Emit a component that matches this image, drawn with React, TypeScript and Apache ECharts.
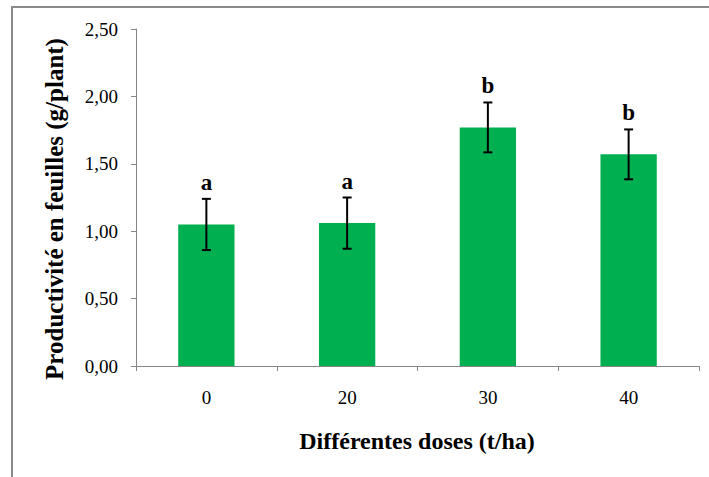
import React, { useEffect, useRef } from "react";
import * as echarts from "echarts";

const categories = ["0", "20", "30", "40"];
const means = [1.05, 1.06, 1.77, 1.57];
const errors = [0.19, 0.19, 0.185, 0.185];
const letters = ["a", "a", "b", "b"];
const yTicks = { min: 0, max: 2.5, interval: 0.5 };

const FONT = "Liberation Serif";

export default function App() {
  const ref = useRef<HTMLDivElement>(null);
  useEffect(() => {
    const chart = echarts.init(ref.current!, null, { renderer: "svg" });
    chart.setOption({
      animation: false,
      backgroundColor: "#ffffff",
      textStyle: { fontFamily: FONT },
      grid: { left: 136, right: 10, top: 29, bottom: 111, containLabel: false },
      xAxis: {
        type: "category",
        data: categories,
        axisLine: { lineStyle: { color: "#868686", width: 1 } },
        axisTick: { show: true, length: 5, lineStyle: { color: "#868686" } },
        axisLabel: { color: "#000", fontFamily: FONT, fontSize: 19, margin: 22 },
      },
      yAxis: {
        type: "value",
        min: yTicks.min,
        max: yTicks.max,
        interval: yTicks.interval,
        axisLine: { show: true, lineStyle: { color: "#868686", width: 1 } },
        axisTick: { show: true, length: 5, lineStyle: { color: "#868686" } },
        splitLine: { show: false },
        axisLabel: {
          color: "#000",
          fontFamily: FONT,
          fontSize: 19,
          margin: 18,
          formatter: (v: number) => v.toFixed(2).replace(".", ","),
        },
      },
      graphic: [
        {
          type: "rect",
          shape: { x: 12, y: 7, width: 900, height: 700 },
          style: { fill: "none", stroke: "#898989", lineWidth: 2 },
          silent: true,
        },
        {
          type: "text",
          x: 54,
          y: 209,
          rotation: Math.PI / 2,
          style: {
            text: "Productivité en feuilles (g/plant)",
            fontFamily: FONT,
            fontSize: 25,
            fontWeight: "bold",
            fill: "#000",
            align: "center",
            verticalAlign: "middle",
          },
        },
        {
          type: "text",
          x: 417,
          y: 441,
          style: {
            text: "Différentes doses (t/ha)",
            fontFamily: FONT,
            fontSize: 24,
            fontWeight: "bold",
            fill: "#000",
            align: "center",
            verticalAlign: "middle",
          },
        },
      ],
      series: [
        {
          type: "bar",
          data: means,
          barWidth: "40%",
          itemStyle: { color: "#00B050" },
        },
        {
          type: "custom",
          data: means.map((m, i) => [i, m, errors[i]]),
          encode: { x: 0, y: 1 },
          z: 10,
          renderItem: (params: any, api: any) => {
            const i = api.value(0);
            const m = api.value(1);
            const e = api.value(2);
            const top = api.coord([i, m + e]);
            const bot = api.coord([i, m - e]);
            const cap = 4.5;
            const ls = { stroke: "#000", lineWidth: 2 };
            return {
              type: "group",
              children: [
                { type: "line", shape: { x1: top[0], y1: top[1], x2: bot[0], y2: bot[1] }, style: ls },
                { type: "line", shape: { x1: top[0] - cap, y1: top[1], x2: top[0] + cap, y2: top[1] }, style: ls },
                { type: "line", shape: { x1: bot[0] - cap, y1: bot[1], x2: bot[0] + cap, y2: bot[1] }, style: ls },
                {
                  type: "text",
                  x: top[0],
                  y: top[1] - 5,
                  style: {
                    text: letters[params.dataIndex],
                    fontFamily: FONT,
                    fontSize: 23,
                    fontWeight: "bold",
                    fill: "#000",
                    align: "center",
                    verticalAlign: "bottom",
                  },
                },
              ],
            };
          },
        },
      ],
    });
    return () => chart.dispose();
  }, []);
  return (
    <div
      ref={ref}
      style={{ position: "absolute", left: 0, top: 0, width: 709, height: 477, background: "#fff" }}
    />
  );
}
